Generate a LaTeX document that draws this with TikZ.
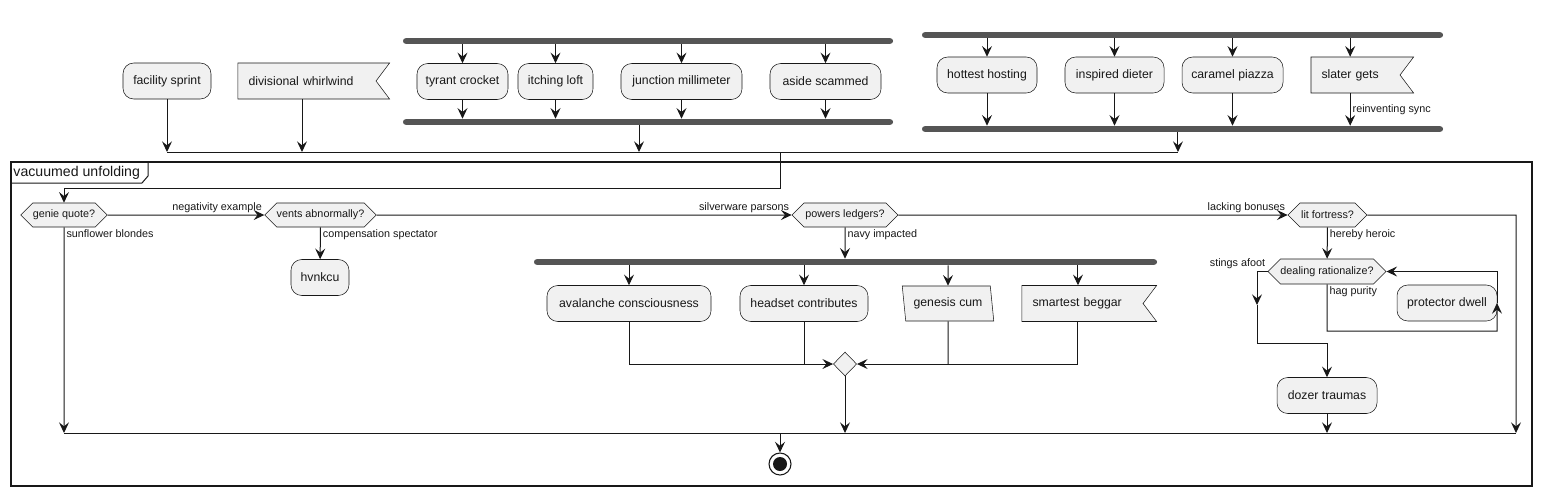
\documentclass[tikz,border=0pt]{standalone}
\usepackage{fontspec}
\setmainfont{Liberation Sans}
\usetikzlibrary{arrows.meta,shapes.geometric,shapes.symbols}

\definecolor{actfill}{HTML}{F1F1F1}
\definecolor{lineclr}{HTML}{181818}
\definecolor{barclr}{HTML}{555555}

\begin{document}
\begin{tikzpicture}[>={Stealth[length=8pt,width=7.5pt,inset=3pt]},x=0.75pt,y=-0.75pt,line width=0.75pt,color=lineclr,
  act/.style={rectangle,rounded corners=8pt,draw=lineclr,line width=0.4pt,fill=actfill,minimum height=27pt,inner sep=0pt,font=\fontsize{9.2}{11}\selectfont},
  flag/.style={signal,signal from=east,signal to=nowhere,signal pointer angle=106,draw=lineclr,line width=0.4pt,fill=actfill,minimum height=27pt,inner xsep=7.9pt,inner ysep=0pt,align=left,font=\fontsize{9.2}{11}\selectfont},
  io/.style={trapezium,trapezium left angle=104,trapezium right angle=76,trapezium stretches=true,draw=lineclr,line width=0.4pt,fill=actfill,minimum height=26.25pt,inner sep=0pt,font=\fontsize{9.2}{11}\selectfont},
  dec/.style={signal,signal to=east and west,signal from=nowhere,signal pointer angle=90,draw=lineclr,line width=0.4pt,fill=actfill,minimum height=18pt,inner sep=0pt,font=\fontsize{8.1}{10}\selectfont},
  bar/.style={rectangle,rounded corners=2pt,fill=barclr,minimum height=4.2pt,inner sep=0pt},
  merge/.style={diamond,draw=lineclr,line width=0.4pt,fill=actfill,minimum width=17.5pt,minimum height=18pt,inner sep=0pt},
  lbl/.style={font=\fontsize{8.1}{10}\selectfont,inner sep=1.5pt}]
  \useasboundingbox (0,0) rectangle (1541,497);

  % group frame
  \draw[line width=1pt] (11,162) rectangle (1532,486);
  \node[anchor=west,font=\fontsize{10.6}{12}\selectfont,inner sep=1.5pt] (grp) at (11,173) {vacuumed unfolding};
  \draw (11,183) -- (142,183) -- (148,176) -- (148,162);

  % top row
  \node[act,minimum width=66pt] (fs) at (167,81) {facility sprint};
  \node[flag,text width=87.75pt] (dw) at (307,81) {divisional whirlwind};

  \node[bar,minimum width=367.5pt] (f1) at (648,41) {};
  \node[act,minimum width=68.25pt] (tc) at (462.5,81.5) {tyrant crocket};
  \node[act,minimum width=56.25pt] (il) at (555.5,81.5) {itching loft};
  \node[act,minimum width=90.75pt] (jm) at (681.5,81.5) {junction millimeter};
  \node[act,minimum width=83.25pt] (asc) at (825.5,81.5) {aside scammed};
  \node[bar,minimum width=367.5pt] (j1) at (648,122) {};

  \node[bar,minimum width=390.75pt] (f2) at (1182.5,35) {};
  \node[act,minimum width=75pt] (hh) at (987,75) {hottest hosting};
  \node[act,minimum width=74.25pt] (id) at (1114.5,75) {inspired dieter};
  \node[act,minimum width=75.75pt] (cp) at (1232.5,75) {caramel piazza};
  \node[flag,text width=51pt] (sg) at (1355.5,75) {slater gets};
  \node[bar,minimum width=390.75pt] (j2) at (1182.5,129) {};

  \coordinate (tl) at (167,152);
  \coordinate (tr) at (1178,152);
  \coordinate (tm) at (780,152);
  \coordinate (td) at (780,188);

  % decisions
  \node[dec,minimum width=64.5pt] (gq) at (64,215) {genie quote?};
  \node[dec,minimum width=83.25pt] (va) at (320.5,215) {vents abnormally?};
  \node[dec,minimum width=79.5pt] (pl) at (845,215) {powers ledgers?};
  \node[dec,minimum width=59.25pt] (lf) at (1327.5,215) {lit fortress?};
  \node[act,minimum width=43.5pt] (hv) at (320,277.5) {hvnkcu};

  \node[bar,minimum width=467.25pt] (f3) at (845.5,262) {};
  \node[act,minimum width=123pt] (ac) at (629,303.5) {avalanche consciousness};
  \node[act,minimum width=96pt] (hc) at (804,303.5) {headset contributes};
  \node[io,minimum width=69pt] (gc) at (948,303.5) {genesis cum};
  \node[flag,text width=75pt] (sb) at (1082.5,303.5) {smartest beggar};
  \node[merge] (md) at (845,364) {};

  \node[dec,minimum width=87pt,minimum height=18.75pt] (dr) at (1327,271.5) {dealing rationalize?};
  \node[act,minimum width=75pt] (pd) at (1447,303) {protector dwell};
  \node[act,minimum width=75pt] (dt) at (1327,395.5) {dozer traumas};

  \coordinate (lfr) at (1516,215);
  \coordinate (ml) at (64,433);
  \coordinate (mr) at (1516,433);
  \coordinate (me) at (780,433);
  \coordinate (sa1) at (1257,271.5);
  \coordinate (sa2) at (1257,305);
  \coordinate (sa4) at (1327,343);
  \coordinate (hp1) at (1327,331);
  \coordinate (hp2) at (1497,331);
  \coordinate (hp3) at (1497,303);
  \coordinate (hp4) at (1497,271.5);

  \node[circle,draw=lineclr,line width=0.8pt,minimum size=16.5pt,inner sep=0pt] (stop) at (780,464) {};
  \node[circle,fill=lineclr,minimum size=10.5pt,inner sep=0pt] (stopdot) at (stop) {};

  % top connectors
  \draw[->] (fs) -- (tl);
  \draw[->] ([xshift=-3.75pt]dw.south) -- ([xshift=-3.75pt]dw.south |- tl);
  \draw[->] (f1.south -| tc) -- (tc);
  \draw[->] (f1.south -| il) -- (il);
  \draw[->] (f1.south -| jm) -- (jm);
  \draw[->] (f1.south -| asc) -- (asc);
  \draw[->] (tc) -- (tc |- j1.north);
  \draw[->] (il) -- (il |- j1.north);
  \draw[->] (jm) -- (jm |- j1.north);
  \draw[->] (asc) -- (asc |- j1.north);
  \draw[->] ([xshift=-6.75pt]j1.south) -- ([xshift=-6.75pt]j1.south |- tl);
  \draw[->] (f2.south -| hh) -- (hh);
  \draw[->] (f2.south -| id) -- (id);
  \draw[->] (f2.south -| cp) -- (cp);
  \draw[->] ([xshift=-4pt]sg.north |- f2.south) -- ([xshift=-4pt]sg.north);
  \draw[->] (hh) -- (hh |- j2.north);
  \draw[->] (id) -- (id |- j2.north);
  \draw[->] (cp) -- (cp |- j2.north);
  \draw[->] ([xshift=-4pt]sg.south) -- node[lbl,right]{reinventing sync} ([xshift=-4pt]sg.south |- j2.north);
  \draw[->] ([xshift=-3.4pt]j2.south) -- ([xshift=-3.4pt]j2.south |- tl);
  \draw (tl) -- (tr);
  \draw[->] (tm) -- (td) -| (gq);

  % decisions
  \draw[->] (gq) -- node[lbl,anchor=south east,pos=1]{negativity example} (va);
  \draw[->] (va) -- node[lbl,anchor=south east,pos=1]{silverware parsons} (pl);
  \draw[->] (pl) -- node[lbl,anchor=south east,pos=1]{lacking bonuses} (lf);
  \draw[->] (lf) -- (lfr) -- (mr);
  \draw[->] (gq) -- node[lbl,anchor=north west,pos=0]{sunflower blondes} (ml);
  \draw[->] (va) -- node[lbl,anchor=north west,pos=0]{compensation spectator} (hv);
  \draw[->] (pl) -- node[lbl,anchor=north west,pos=0]{navy impacted} (pl |- f3.north);

  % parallel block
  \draw[->] (f3.south -| ac) -- (ac);
  \draw[->] (f3.south -| hc) -- (hc);
  \draw[->] (f3.south -| gc) -- (gc);
  \draw[->] ([xshift=-3.4pt]sb.north |- f3.south) -- ([xshift=-3.4pt]sb.north);
  \draw[->] (ac) |- (md);
  \draw (hc) -- (hc |- md);
  \draw[->] ([xshift=-3.4pt]sb.south) |- (md);
  \draw (gc) -- (gc |- md);
  \draw[->] (md) -- (md |- ml);

  % right branch
  \draw[->] (lf) -- node[lbl,anchor=north west,pos=0]{hereby heroic} (dr);
  \draw[->] (dr.west) -- node[lbl,anchor=south east,pos=0]{stings afoot} (sa1) -- (sa2);
  \draw[->] (sa2) |- (sa4) -- (dt);
  \draw[->] (dr) -- node[lbl,anchor=north west,pos=0]{hag purity} (hp1) -- (hp2) -- (hp3);
  \draw[->] (hp3) -- (hp4) -- (dr.east);
  \draw[->] (dt) -- (dt |- ml);

  % end
  \draw (ml) -- (mr);
  \draw[->] (me) -- (stop);
\end{tikzpicture}
\end{document}
